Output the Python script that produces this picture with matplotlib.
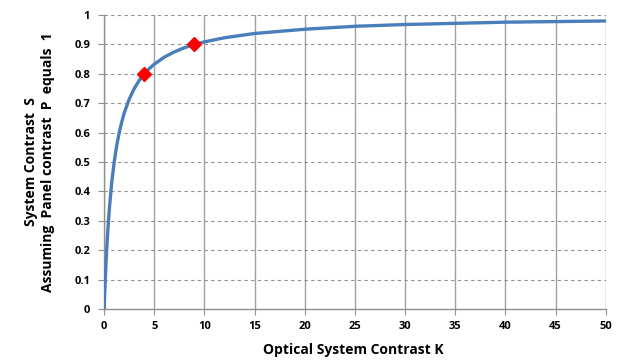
import numpy as np
import matplotlib
matplotlib.use('Agg')
import matplotlib.pyplot as plt

# values
k_vals = [0, 0.05, 0.1, 0.175, 0.25, 0.35, 0.5, 0.75, 1, 1.25, 1.5, 1.75, 2, 2.5, 3, 3.5, 4, 4.5, 5, 6, 7, 8, 9,
          10, 12, 15, 20, 25, 30, 35, 40, 45, 50]
s_vals = [0, 0.048, 0.09, 0.149, 0.2, 0.259, 0.333, 0.429, 0.5, 0.556, 0.6, 0.636, 0.667, 0.714, 0.75, 0.778,
          0.8, 0.818, 0.833, 0.857, 0.875, 0.889, 0.9, 0.909, 0.923, 0.9375, 0.952, 0.962, 0.968, 0.972,
          0.976, 0.978, 0.98]
marker_k = [4, 9]
marker_s = [0.8, 0.9]

x_ticks = list(range(0, 51, 5))
y_ticks = [0, 0.1, 0.2, 0.3, 0.4, 0.5, 0.6, 0.7, 0.8, 0.9, 1]
y_tick_labels = ['0', '0.1', '0.2', '0.3', '0.4', '0.5', '0.6', '0.7', '0.8', '0.9', '1']

plt.rcParams['font.family'] = ['Open Sans', 'DejaVu Sans']

fig = plt.figure(figsize=(6.2, 3.6), dpi=100)
ax = fig.add_axes([0.168, 0.142, 0.809, 0.816])

ax.plot(k_vals, s_vals, color='#4A7EBB', lw=2.4, zorder=3, solid_joinstyle='round')
ax.plot(marker_k, marker_s, linestyle='none', marker='D', color='#FF0000', markersize=7, zorder=4)

ax.set_xlim(0, 50)
ax.set_ylim(0, 1)
ax.set_xticks(x_ticks)
ax.set_yticks(y_ticks)
ax.set_yticklabels(y_tick_labels)

# vertical grid solid, horizontal grid dashed
ax.xaxis.grid(True, color='#A0A0A0', lw=1, linestyle='-')
ax.yaxis.grid(True, color='#909090', lw=0.8, linestyle=(0, (3, 3)))
ax.set_axisbelow(True)

for side in ['top', 'right']:
    ax.spines[side].set_visible(False)
for side in ['left', 'bottom']:
    ax.spines[side].set_color('#909090')
    ax.spines[side].set_linewidth(1)

ax.tick_params(axis='x', direction='out', length=4, color='#909090', labelsize=8, pad=5)
ax.tick_params(axis='y', direction='out', length=4, color='#909090', labelsize=8, pad=6)
for lab in ax.get_xticklabels() + ax.get_yticklabels():
    lab.set_fontweight('bold')

fig.text(0.57, 0.028, 'Optical System Contrast K', fontsize=10, fontweight='bold',
         ha='center', va='center')
ax.set_ylabel('System Contrast  S\nAssuming  Panel contrast  P  equals  1', fontsize=10,
              fontweight='bold', labelpad=14, linespacing=1.3)

fig.savefig('out.png', dpi=100)
